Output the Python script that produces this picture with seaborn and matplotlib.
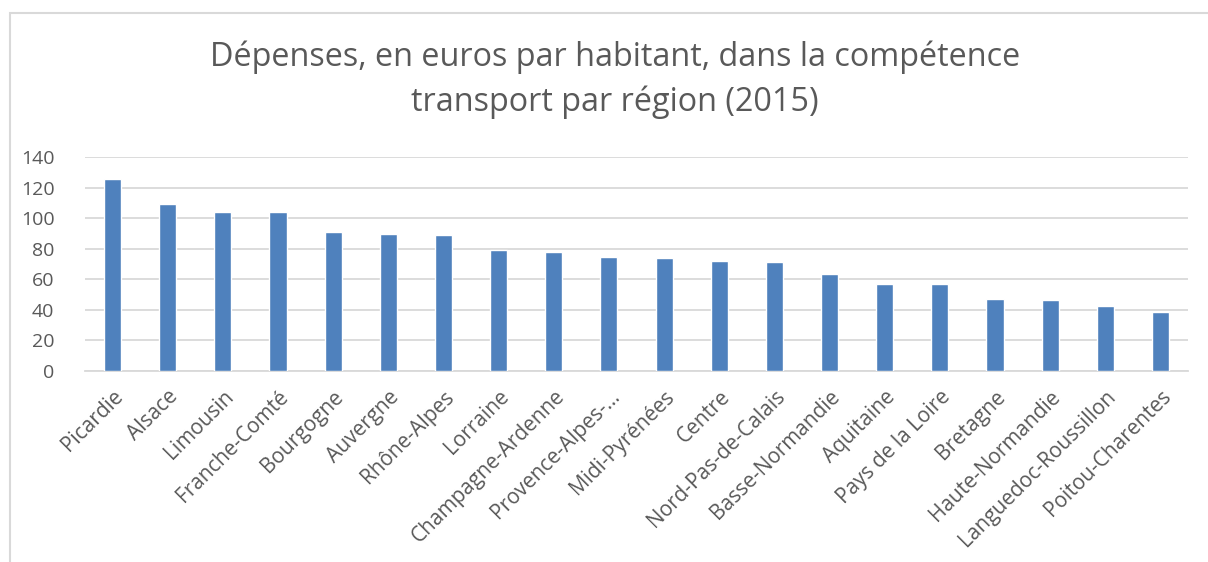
import numpy as np
import pandas as pd
import matplotlib.pyplot as plt
import matplotlib.patches as mpatches
import seaborn as sns

# donnees
regions = ["Picardie", "Alsace", "Limousin", "Franche-Comté", "Bourgogne",
           "Auvergne", "Rhône-Alpes", "Lorraine", "Champagne-Ardenne",
           "Provence-Alpes-…", "Midi-Pyrénées", "Centre", "Nord-Pas-de-Calais",
           "Basse-Normandie", "Aquitaine", "Pays de la Loire", "Bretagne",
           "Haute-Normandie", "Languedoc-Roussillon", "Poitou-Charentes"]
depenses = [125.7, 109.3, 104.0, 104.0, 91.1, 89.8, 88.7, 79.0, 77.9, 74.6,
            73.7, 71.8, 71.1, 63.6, 57.1, 56.6, 47.0, 46.5, 42.8, 38.6]
yticks = [0, 20, 40, 60, 80, 100, 120, 140]

df = pd.DataFrame({"region": regions, "depenses": depenses})

sns.set_style("white")
plt.rcParams["font.family"] = ["Open Sans", "DejaVu Sans"]
gris = "#595959"

fig = plt.figure(figsize=(12.08, 5.62), dpi=100)
ax = fig.add_axes([85 / 1208, 1 - 371 / 562, 1103 / 1208, 214 / 562])

sns.barplot(data=df, x="region", y="depenses", color="#4f81bd",
            width=0.31, saturation=1, ax=ax, zorder=3)

ax.set_ylim(0, 140)
ax.set_xlim(-0.5, len(regions) - 0.5)
ax.set_yticks(yticks)
ax.yaxis.grid(True, color="#d9d9d9", linewidth=1.3, zorder=0)
ax.set_axisbelow(True)
for s in ["top", "right", "left"]:
    ax.spines[s].set_visible(False)
ax.spines["bottom"].set_color("#d9d9d9")
ax.spines["bottom"].set_linewidth(1.3)
ax.set_xlabel("")
ax.set_ylabel("")
ax.tick_params(axis="y", length=0, colors=gris, labelsize=14, pad=22)
ax.tick_params(axis="x", length=0, colors=gris, labelsize=15, pad=11)
plt.setp(ax.get_xticklabels(), rotation=45, ha="right", rotation_mode="anchor")

fig.text(0.509, 1 - 80 / 562, "Dépenses, en euros par habitant, dans la compétence\ntransport par région (2015)",
         ha="center", va="center", fontsize=23.3, color=gris, linespacing=1.45)

# cadre du graphique
fig.patches.append(mpatches.Rectangle((10 / 1208, -0.1), 1.2, 1 - 13 / 562 + 0.1,
                                      transform=fig.transFigure, fill=False,
                                      edgecolor="#d9d9d9", linewidth=1.5))

fig.savefig("out.png", dpi=100)
